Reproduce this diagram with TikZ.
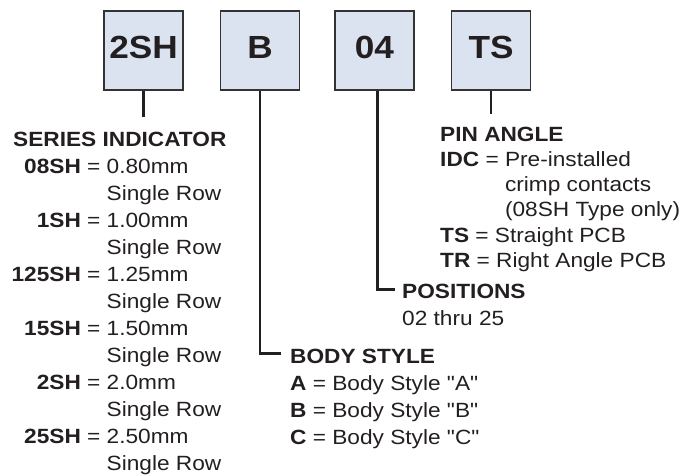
\documentclass[tikz,border=0pt]{standalone}
\usepackage{fontspec}
\setmainfont{Liberation Sans}[FakeStretch=1.1, Ligatures=TeXOff]
\definecolor{ink}{HTML}{231F20}
\definecolor{boxfill}{HTML}{DCE3F0}
\definecolor{boxline}{HTML}{333333}
\newcommand{\serlbl}[1]{\makebox[0pt][r]{\bfseries #1\ }}
\begin{document}
\begin{tikzpicture}[x=1pt,y=-1pt,
  codebox/.style={draw=boxline, line width=1.2pt, fill=boxfill,
    minimum width=79pt, minimum height=79pt, inner sep=0pt,
    text height=23pt, text depth=7pt,
    font=\fontsize{32}{32}\selectfont\bfseries, text=ink},
  lead/.style={draw=ink, line width=2.2pt},
  txt/.style={anchor=base west, inner sep=0pt, text=ink,
    font=\fontsize{20.6}{27}\selectfont}]
\useasboundingbox (0,0) rectangle (694,475);

% code boxes
\node[codebox] (b1) at (143.5,50.5) {2SH};
\node[codebox] (b2) at (260,50.5) {B};
\node[codebox] (b3) at (374.5,50.5) {04};
\node[codebox] (b4) at (491,50.5) {TS};

% leader lines
\coordinate (e1) at (143.5,117);
\coordinate (e2) at (281,353.5);
\coordinate (e3) at (395,289.5);
\coordinate (e4) at (491,114);
\draw[lead] (b1.south) -- (e1);
\draw[lead] (b2.south) |- (e2);
\draw[lead] ([xshift=3pt]b3.south) |- (e3);
\draw[lead] (b4.south) -- (e4);

% series indicator
\node[txt] (si) at (13,146.7) {\bfseries SERIES INDICATOR};
\node[txt] (s1) at (87,173.7) {\serlbl{08SH}= 0.80mm};
\node[txt] (s2) at (87,200.7) {\phantom{=}\ Single Row};
\node[txt] (s3) at (87,227.7) {\serlbl{1SH}= 1.00mm};
\node[txt] (s4) at (87,254.7) {\phantom{=}\ Single Row};
\node[txt] (s5) at (87,281.7) {\serlbl{125SH}= 1.25mm};
\node[txt] (s6) at (87,308.7) {\phantom{=}\ Single Row};
\node[txt] (s7) at (87,335.7) {\serlbl{15SH}= 1.50mm};
\node[txt] (s8) at (87,362.7) {\phantom{=}\ Single Row};
\node[txt] (s9) at (87,389.7) {\serlbl{2SH}= 2.0mm};
\node[txt] (s10) at (87,416.7) {\phantom{=}\ Single Row};
\node[txt] (s11) at (87,443.7) {\serlbl{25SH}= 2.50mm};
\node[txt] (s12) at (87,470.7) {\phantom{=}\ Single Row};

% body style
\node[txt] (bs) at (290,363.3) {\bfseries BODY STYLE};
\node[txt] (bsa) at (290,390.5) {\textbf{A} = Body Style "A"};
\node[txt] (bsb) at (290,417.7) {\textbf{B} = Body Style "B"};
\node[txt] (bsc) at (290,444.9) {\textbf{C} = Body Style "C"};

% positions
\node[txt] (po) at (402,298.3) {\bfseries POSITIONS};
\node[txt] (po1) at (402,325.5) {02 thru 25};

% pin angle
\node[txt] (pa) at (440,141) {\bfseries PIN ANGLE};
\node[txt] (pa1) at (440,166.3) {\textbf{IDC} = Pre-installed};
\node[txt] (pa2) at (440,191.6) {\phantom{\textbf{IDC} =\ }crimp contacts};
\node[txt] (pa3) at (440,216.9) {\phantom{\textbf{IDC} =\ }(08SH Type only)};
\node[txt] (pa4) at (440,242.2) {\textbf{TS} = Straight PCB};
\node[txt] (pa5) at (440,267.5) {\textbf{TR} = Right Angle PCB};
\end{tikzpicture}
\end{document}
